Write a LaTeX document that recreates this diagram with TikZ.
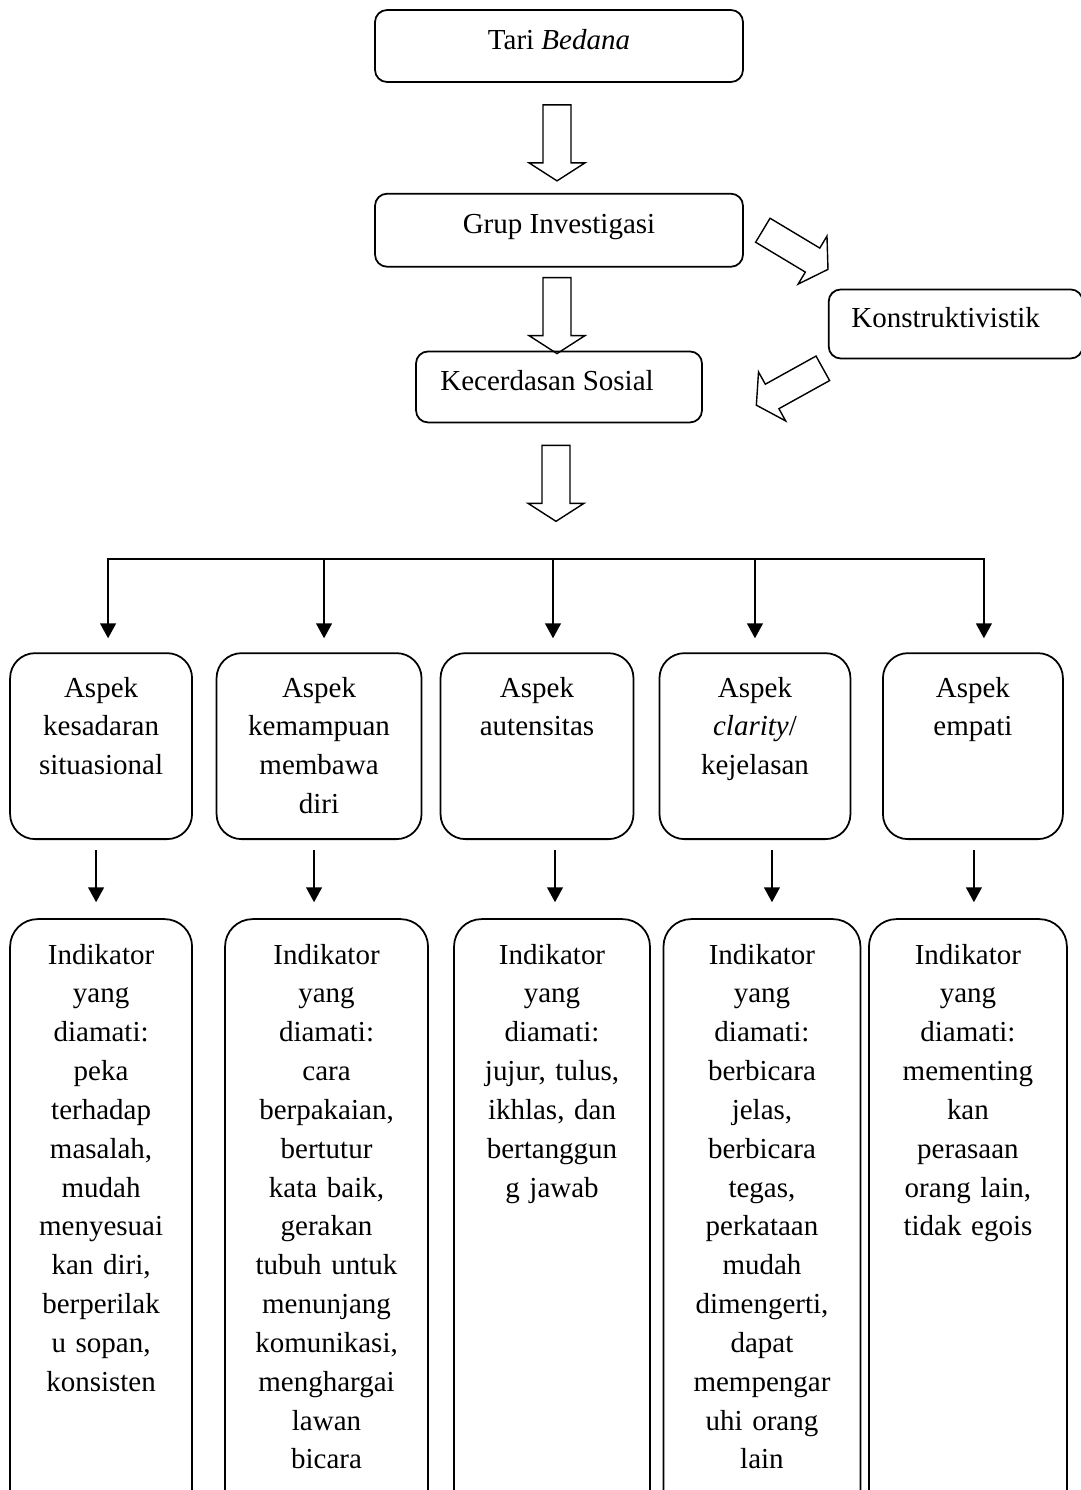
\documentclass[tikz,border=0pt]{standalone}
\usepackage{fontspec}
\setmainfont{Liberation Serif}
\usepackage{tikz}
\usetikzlibrary{positioning,arrows.meta}

\tikzset{
  kotak/.style={draw, line width=1pt, rounded corners=0.24cm, align=center, text depth=0.27cm},
  aspek/.style={draw, line width=1pt, rounded corners=0.5cm, text width=#1, align=center,
    inner xsep=0pt, inner ysep=0pt, text height=0.88cm, text depth=2.84cm},
  indikator/.style={draw, line width=1pt, rounded corners=0.55cm, text width=#1, align=center,
    inner xsep=0pt, inner ysep=0pt, text height=0.9cm, text depth=12cm},
  dropx/.store in=\dropx, dropx=0pt,
  fatarrow/.pic={
    \draw[line width=0.8pt] (0,-14) -- (58,-14) -- (58,-28) -- (76,0) -- (58,28) -- (58,14) -- (0,14) -- cycle;
  }
}

\begin{document}
\begin{tikzpicture}[x=0.02cm,y=-0.02cm,font=\fontsize{16.5}{22.1}\selectfont,
    grow=down,growth parent anchor=north,every child node/.style={anchor=north},
    level 1/.style={sibling distance=4.36cm,level distance=1.86cm,
      edge from parent path={(\tikzparentnode) -| ([xshift=\dropx]\tikzchildnode.north)},
      edge from parent/.style={draw,line width=1pt,-{Triangle[width=9pt,length=8.5pt]},shorten >=0.28cm}},
    level 2/.style={level distance=5.32cm,
      edge from parent path={([xshift=\dropx,yshift=1.36cm]\tikzchildnode.north) -- ([xshift=\dropx,yshift=0.32cm]\tikzchildnode.north)},
      edge from parent/.style={draw,line width=1pt,-{Triangle[width=9pt,length=8.5pt]}}}]
  \useasboundingbox (0,0) rectangle (1081,1490);
  \clip (0,0) rectangle (1081,1490);

  % upper part
  \node[kotak,minimum width=7.36cm,minimum height=1.44cm] (tari) at (559,46) {Tari \textit{Bedana}};
  \node[kotak,minimum width=7.36cm,minimum height=1.46cm,below=2.2cm of tari] (grup) {Grup Investigasi};
  \node[kotak,minimum width=5.72cm,minimum height=1.42cm,below=1.66cm of grup] (kec) {Kecerdasan Sosial\hspace*{0.48cm}};
  \node[kotak,minimum width=5.08cm,minimum height=1.38cm,below right=0.42cm and 1.68cm of grup] (kons) {Konstruktivistik\hspace*{0.4cm}};

  \pic[rotate=-90] at ([xshift=-0.04cm,yshift=-0.44cm]tari.south) {fatarrow};
  \pic[rotate=-90] at ([xshift=-0.04cm,yshift=-0.2cm]grup.south) {fatarrow};
  \pic[rotate=-90] at ([xshift=-0.06cm,yshift=-0.44cm]kec.south) {fatarrow};
  \pic[rotate=-31] at ([xshift=0.38cm]grup.east) {fatarrow};
  \pic[rotate=-151] at ([xshift=-0.1cm,yshift=-0.18cm]kons.south west) {fatarrow};

  % aspek dan indikator
  \node[coordinate] (bar) at ([xshift=-0.44cm,yshift=-2.72cm]kec.south) {}
    child[dropx=0.14cm] {
      node[aspek=3.64cm] (a1) {Aspek\\kesadaran\\situasional}
      child[dropx=-0.1cm] {
        node[indikator=3.64cm] (i1) {Indikator\\yang\\diamati:\\peka\\terhadap\\masalah,\\mudah\\menyesuai\\kan diri,\\berperilak\\u sopan,\\konsisten}
      }
    }
    child[dropx=0.1cm] {
      node[aspek=4.1cm] (a2) {Aspek\\kemampuan\\membawa\\diri}
      child[dropx=-0.25cm] {
        node[indikator=4.06cm,xshift=0.15cm] (i2) {Indikator\\yang\\diamati:\\cara\\berpakaian,\\bertutur\\kata baik,\\gerakan\\tubuh untuk\\menunjang\\komunikasi,\\menghargai\\lawan\\bicara}
      }
    }
    child[dropx=0.32cm] {
      node[aspek=3.86cm] (a3) {Aspek\\autensitas}
      child[dropx=0.06cm] {
        node[indikator=3.92cm,xshift=0.3cm] (i3) {Indikator\\yang\\diamati:\\jujur, tulus,\\ikhlas, dan\\bertanggun\\g jawab}
      }
    }
    child[dropx=0cm] {
      node[aspek=3.82cm] (a4) {Aspek\\\textit{clarity}/\\kejelasan}
      child[dropx=0.2cm] {
        node[indikator=3.94cm,xshift=0.14cm] (i4) {Indikator\\yang\\diamati:\\berbicara\\jelas,\\berbicara\\tegas,\\perkataan\\mudah\\dimengerti,\\dapat\\mempengar\\uhi orang\\lain}
      }
    }
    child[dropx=0.22cm] {
      node[aspek=3.6cm] (a5) {Aspek\\empati}
      child[dropx=0.12cm] {
        node[indikator=3.96cm,xshift=-0.1cm] (i5) {Indikator\\yang\\diamati:\\mementing\\kan\\perasaan\\orang lain,\\tidak egois}
      }
    };
\end{tikzpicture}
\end{document}
